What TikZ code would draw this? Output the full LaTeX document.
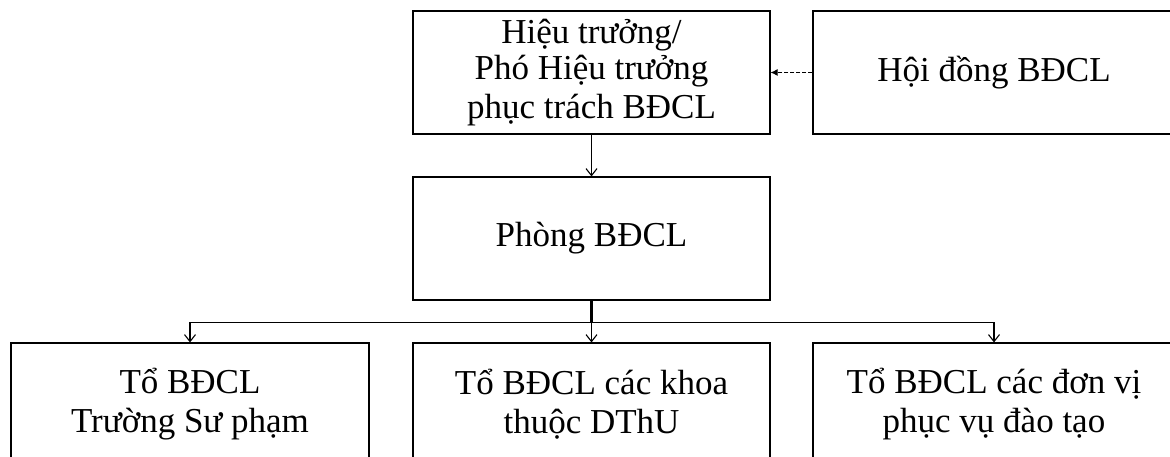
\documentclass[tikz,border=0pt]{standalone}
\usepackage{fontspec}
\setmainfont{Liberation Serif}
\usetikzlibrary{arrows.meta}
\begin{document}
\begin{tikzpicture}[x=1pt,y=-1pt,
  box/.style={draw, line width=1.1pt, minimum width=357pt, minimum height=123pt,
    inner sep=0pt, align=center, font=\fontsize{35}{39}\selectfont, anchor=center},
  conn/.style={line width=1.1pt, -{Straight Barb[length=7pt,width=11pt,line width=1.1pt]}},
  dconn/.style={line width=1.1pt, dash pattern=on 4pt off 2pt, -{Latex[length=7pt,width=7pt]}},
]
\useasboundingbox (0,0) rectangle (1170,457);
\clip (0,0) rectangle (1170,457);
\fill[white] (0,0) rectangle (1170,457);

\node[box] (hieu) at (591.5,72.5) {\raisebox{-3pt}{Hiệu trưởng/}\\Phó Hiệu trưởng\\phục trách BĐCL};
\node[box, minimum width=362pt] (hoi) at (994,72.5) {Hội đồng BĐCL};
\node[box] (phong) at (591.5,238.5) {Phòng BĐCL};
\node[box, minimum width=358pt] (t1) at (190,404.5) {Tổ BĐCL\\Trường Sư phạm};
\node[box] (t2) at (591.5,404.5) {Tổ BĐCL các khoa\\thuộc DThU};
\node[box, minimum width=362pt] (t3) at (994,404.5) {Tổ BĐCL các đơn vị\\phục vụ đào tạo};

\draw[conn] (hieu.south) -- (phong.north);
\draw[dconn] (hoi.west) -- (hieu.east);
\path (phong.south) ++(0,22) coordinate (bus);
\draw[line width=2.2pt] (phong.south) -- (bus);
\draw[conn] (bus) -| (t1.north);
\draw[conn] (bus) -| (t3.north);
\draw[conn] (bus) -- (t2.north);
\end{tikzpicture}
\end{document}
